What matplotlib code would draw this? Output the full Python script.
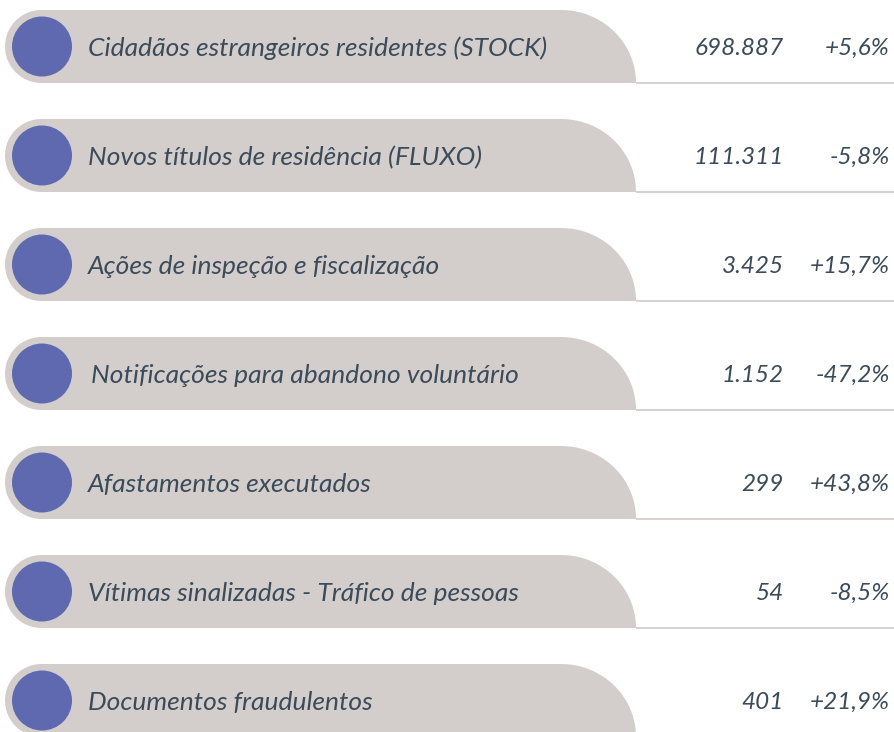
import matplotlib
matplotlib.use("Agg")
import matplotlib.pyplot as plt
import matplotlib.patches as patches
from matplotlib.path import Path
import numpy as np

labels = [
    "Cidadãos estrangeiros residentes (STOCK)",
    "Novos títulos de residência (FLUXO)",
    "Ações de inspeção e fiscalização",
    "Notificações para abandono voluntário",
    "Afastamentos executados",
    "Vítimas sinalizadas - Tráfico de pessoas",
    "Documentos fraudulentos",
]
values = ["698.887", "111.311", "3.425", "1.152", "299", "54", "401"]
changes = ["+5,6%", "-5,8%", "+15,7%", "-47,2%", "+43,8%", "-8,5%", "+21,9%"]

W, H = 895, 732
GREY = "#d3cecb"
BLUE = "#5f69b0"
TEXT = "#3b4b5a"
FONT = "Lato"

fig = plt.figure(figsize=(W / 100, H / 100), dpi=100)
ax = fig.add_axes([0, 0, 1, 1])
ax.set_xlim(0, W)
ax.set_ylim(H, 0)
ax.axis("off")


def tab_path(top, h=73, left=5, x_arc=561, x_end=636):
    # pill on the left, quarter ellipse on the right, flat bottom
    r = h / 2
    cx = left + r
    cy = top + r
    t = np.linspace(np.pi / 2, 3 * np.pi / 2, 40)
    pts = list(zip(cx + r * np.cos(t), cy + r * np.sin(t)))
    a = np.linspace(-np.pi / 2, 0, 40)
    pts += list(zip(x_arc + (x_end - x_arc) * np.cos(a), top + h + h * np.sin(a)))
    pts.append((cx, top + h))
    return Path(pts + [pts[0]], closed=True)


step = 109
for i, (lab, val, chg) in enumerate(zip(labels, values, changes)):
    top = 10 + i * step
    h = 73
    cy = top + h / 2
    ax.add_patch(patches.PathPatch(tab_path(top, h), facecolor=GREY, edgecolor="none"))
    ax.plot([636, W], [top + h, top + h], color=GREY, lw=1.3, solid_capstyle="butt")
    ax.add_patch(patches.Circle((42, cy), 30, facecolor=BLUE, edgecolor="none"))
    tx = 91 if i == 3 else 88
    ax.text(tx, cy, lab, family=FONT, style="italic", fontsize=19, color=TEXT,
            ha="left", va="center_baseline")
    ax.text(784, cy, val, family=FONT, style="italic", fontsize=17.5, color=TEXT,
            ha="right", va="center_baseline")
    ax.text(890, cy, chg, family=FONT, style="italic", fontsize=17.5, color=TEXT,
            ha="right", va="center_baseline")

fig.savefig("out.png", dpi=100)
